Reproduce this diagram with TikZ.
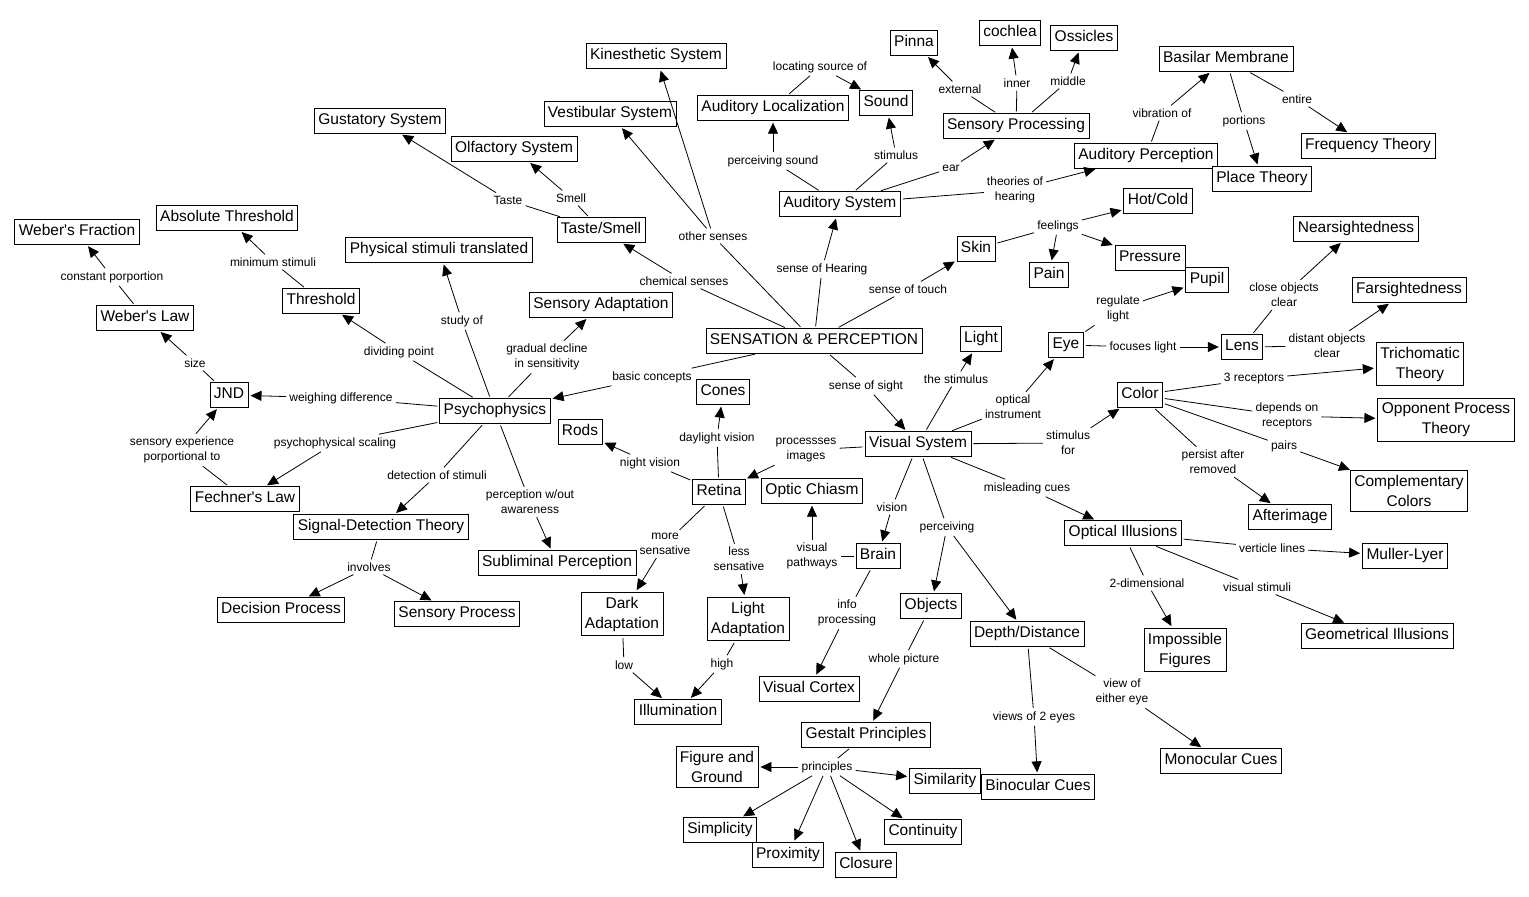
\documentclass[tikz,border=0pt]{standalone}
\usepackage{fontspec}
\setmainfont{Liberation Sans}[Ligatures=TeXOff]
\usetikzlibrary{arrows.meta}
\begin{document}
\begin{tikzpicture}[x=1pt,y=-1pt,
 cbase/.style={draw,fill=white,line width=0.8pt,inner xsep=4pt,font=\fontsize{15.5}{20}\selectfont,align=center},
 conebox/.style={cbase,inner ysep=5pt,text height=11pt,text depth=3.5pt},
 ctwobox/.style={cbase,inner ysep=4.5pt},
 lb/.style={inner sep=3pt,font=\fontsize{12}{15}\selectfont,align=center},
 ln/.style={line width=0.8pt,shorten <=2pt},
 ar/.style={line width=0.8pt,-{Triangle[length=11pt,width=10pt]},shorten >=2pt}]
\fill[white] (0,0) rectangle (1529,897);
\useasboundingbox (0,0) rectangle (1529,897);
% concepts
\node[conebox] (kin) at (656,56) {Kinesthetic System};
\node[conebox] (ves) at (610,114) {Vestibular System};
\node[conebox] (gus) at (380,121) {Gustatory System};
\node[conebox] (olf) at (514,149) {Olfactory System};
\node[conebox] (aloc) at (773,108) {Auditory Localization};
\node[conebox] (sound) at (886,103) {Sound};
\node[conebox] (pinna) at (914,43) {Pinna};
\node[conebox] (coch) at (1010,33) {cochlea};
\node[conebox] (oss) at (1084,38) {Ossicles};
\node[conebox] (sproc) at (1016,126) {Sensory Processing};
\node[conebox] (basil) at (1226,59) {Basilar Membrane};
\node[conebox] (freq) at (1368,146) {Frequency Theory};
\node[conebox] (aper) at (1146,156) {Auditory Perception};
\node[conebox] (place) at (1262,179) {Place Theory};
\node[conebox] (asys) at (840,204) {Auditory System};
\node[conebox] (hot) at (1158,201) {Hot/Cold};
\node[conebox] (skin) at (976,249) {Skin};
\node[conebox] (pain) at (1049,275) {Pain};
\node[conebox] (press) at (1150,258) {Pressure};
\node[conebox] (pupil) at (1207,280) {Pupil};
\node[conebox] (near) at (1356,229) {Nearsightedness};
\node[conebox] (far) at (1409,290) {Farsightedness};
\node[conebox] (wfrac) at (77,232) {Weber's Fraction};
\node[conebox] (abs) at (227,218) {Absolute Threshold};
\node[conebox] (phys) at (439,250) {Physical stimuli translated};
\node[conebox] (ts) at (601,230) {Taste/Smell};
\node[conebox] (thr) at (321,301) {Threshold};
\node[conebox] (wlaw) at (145,318) {Weber's Law};
\node[conebox] (sadapt) at (601,305) {Sensory Adaptation};
\node[conebox] (sp) at (814,341) {SENSATION \& PERCEPTION};
\node[conebox] (light) at (981,339) {Light};
\node[conebox] (eye) at (1066,345) {Eye};
\node[conebox] (lens) at (1242,347) {Lens};
\node[ctwobox] (tri) at (1420,364) {Trichomatic\\Theory};
\node[conebox] (color) at (1140,395) {Color};
\node[ctwobox] (opp) at (1446,420) {Opponent Process\\Theory};
\node[conebox] (jnd) at (229,395) {JND};
\node[conebox] (psy) at (495,411) {Psychophysics};
\node[conebox] (cones) at (723,392) {Cones};
\node[conebox] (rods) at (580,432) {Rods};
\node[conebox] (vis) at (918,444) {Visual System};
\node[conebox] (ret) at (719,492) {Retina};
\node[conebox] (chi) at (812,491) {Optic Chiasm};
\node[conebox] (fech) at (245,499) {Fechner's Law};
\node[conebox] (sdt) at (381,527) {Signal-Detection Theory};
\node[conebox] (subl) at (557,563) {Subliminal Perception};
\node[ctwobox] (comp) at (1409,491) {Complementary\\Colors};
\node[conebox] (after) at (1290,517) {Afterimage};
\node[conebox] (opt) at (1123,533) {Optical Illusions};
\node[conebox] (mull) at (1405,556) {Muller-Lyer};
\node[conebox] (brain) at (878,556) {Brain};
\node[conebox] (dec) at (281,610) {Decision Process};
\node[conebox] (sproc2) at (457,614) {Sensory Process};
\node[ctwobox] (dark) at (622,614) {Dark\\Adaptation};
\node[ctwobox] (ladapt) at (748,619) {Light\\Adaptation};
\node[conebox] (obj) at (931,606) {Objects};
\node[conebox] (depth) at (1027,634) {Depth/Distance};
\node[ctwobox] (imp) at (1185,650) {Impossible\\Figures};
\node[conebox] (geo) at (1377,636) {Geometrical Illusions};
\node[conebox] (vcor) at (809,689) {Visual Cortex};
\node[conebox] (illum) at (678,712) {Illumination};
\node[conebox] (gest) at (866,735) {Gestalt Principles};
\node[ctwobox] (fig) at (717,767) {Figure and\\Ground};
\node[conebox] (sim) at (945,781) {Similarity};
\node[conebox] (bino) at (1038,787) {Binocular Cues};
\node[conebox] (mono) at (1221,761) {Monocular Cues};
\node[conebox] (simp) at (720,830) {Simplicity};
\node[conebox] (prox) at (788,855) {Proximity};
\node[conebox] (clos) at (866,865) {Closure};
\node[conebox] (cont) at (923,832) {Continuity};
% labels
\node[lb] (l_os) at (713,236) {other senses};
\node[lb] (l_chem) at (684,281) {chemical senses};
\node[lb] (l_taste) at (508,200) {Taste};
\node[lb] (l_smell) at (571,198) {Smell};
\node[lb] (l_loc) at (820,67) {locating source of};
\node[lb] (l_psound) at (773,161) {perceiving sound};
\node[lb] (l_stim) at (896,155) {stimulus};
\node[lb] (l_ear) at (951,168) {ear};
\node[lb] (l_ext) at (960,89) {external};
\node[lb] (l_inner) at (1017,83) {inner};
\node[lb] (l_mid) at (1068,81) {middle};
\node[lb] (l_theo) at (1015,190) {theories of\\hearing};
\node[lb] (l_vib) at (1162,113) {vibration of};
\node[lb] (l_port) at (1244,121) {portions};
\node[lb] (l_ent) at (1297,99) {entire};
\node[lb] (l_feel) at (1058,226) {feelings};
\node[lb] (l_hear) at (822,269) {sense of Hearing};
\node[lb] (l_touch) at (908,289) {sense of touch};
\node[lb] (l_min) at (273,262) {minimum stimuli};
\node[lb] (l_const) at (112,277) {constant porportion};
\node[lb] (l_study) at (462,321) {study of};
\node[lb] (l_grad) at (547,357) {gradual decline\\in sensitivity};
\node[lb] (l_div) at (399,352) {dividing point};
\node[lb] (l_basic) at (652,377) {basic concepts};
\node[lb] (l_size) at (195,363) {size};
\node[lb] (l_weigh) at (341,398) {weighing difference};
\node[lb] (l_sens) at (182,450) {sensory experience\\porportional to};
\node[lb] (l_scal) at (335,443) {psychophysical scaling};
\node[lb] (l_det) at (437,475) {detection of stimuli};
\node[lb] (l_perc) at (530,502) {perception w/out\\awareness};
\node[lb] (l_inv) at (369,567) {involves};
\node[lb] (l_day) at (717,438) {daylight vision};
\node[lb] (l_night) at (650,463) {night vision};
\node[lb] (l_proc) at (806,450) {processses\\images};
\node[lb] (l_more) at (665,544) {more\\sensative};
\node[lb] (l_less) at (739,559) {less\\sensative};
\node[lb] (l_sight) at (866,386) {sense of sight};
\node[lb] (l_thestim) at (956,379) {the stimulus};
\node[lb] (l_optic) at (1013,407) {optical\\instrument};
\node[lb] (l_stimfor) at (1068,443) {stimulus\\for};
\node[lb] (l_mis) at (1027,488) {misleading cues};
\node[lb] (l_vision) at (892,507) {vision};
\node[lb] (l_perceiving) at (947,527) {perceiving};
\node[lb] (l_path) at (812,556) {visual\\pathways};
\node[lb] (l_info) at (847,613) {info\\processing};
\node[lb] (l_whole) at (904,659) {whole picture};
\node[lb] (l_low) at (624,665) {low};
\node[lb] (l_high) at (722,664) {high};
\node[lb] (l_princ) at (827,767) {principles};
\node[lb] (l_reg) at (1118,309) {regulate\\light};
\node[lb] (l_foc) at (1143,347) {focuses light};
\node[lb] (l_close) at (1284,295) {close objects\\clear};
\node[lb] (l_dist) at (1327,346) {distant objects\\clear};
\node[lb] (l_3r) at (1254,379) {3 receptors};
\node[lb] (l_dep) at (1287,416) {depends on\\receptors};
\node[lb] (l_pairs) at (1284,446) {pairs};
\node[lb] (l_pers) at (1213,462) {persist after\\removed};
\node[lb] (l_vert) at (1272,548) {verticle lines};
\node[lb] (l_2d) at (1147,583) {2-dimensional};
\node[lb] (l_vstim) at (1257,587) {visual stimuli};
\node[lb] (l_2eyes) at (1034,717) {views of 2 eyes};
\node[lb] (l_either) at (1122,692) {view of\\either eye};
% links
\draw[ln] (sp) -- (l_os); \draw[ar] (l_os) -- (ves); \draw[ar] (l_os) -- (kin);
\draw[ln] (sp) -- (l_chem); \draw[ar] (l_chem) -- (ts);
\draw[ln] (ts) -- (l_taste); \draw[ar] (l_taste) -- (gus);
\draw[ln] (ts) -- (l_smell); \draw[ar] (l_smell) -- (olf);
\draw[ln] (sp) -- (l_hear); \draw[ar] (l_hear) -- (asys);
\draw[ln] (asys) -- (l_psound); \draw[ar] (l_psound) -- (aloc);
\draw[ln] (aloc) -- (l_loc); \draw[ar] (l_loc) -- (sound);
\draw[ln] (asys) -- (l_stim); \draw[ar] (l_stim) -- (sound);
\draw[ln] (asys) -- (l_ear); \draw[ar] (l_ear) -- (sproc);
\draw[ln] (sproc) -- (l_ext); \draw[ar] (l_ext) -- (pinna);
\draw[ln] (sproc) -- (l_inner); \draw[ar] (l_inner) -- (coch);
\draw[ln] (sproc) -- (l_mid); \draw[ar] (l_mid) -- (oss);
\draw[ln] (asys) -- (l_theo); \draw[ar] (l_theo) -- (aper);
\draw[ln] (aper) -- (l_vib); \draw[ar] (l_vib) -- (basil);
\draw[ln] (basil) -- (l_port); \draw[ar] (l_port) -- (place);
\draw[ln] (basil) -- (l_ent); \draw[ar] (l_ent) -- (freq);
\draw[ln] (sp) -- (l_touch); \draw[ar] (l_touch) -- (skin);
\draw[ln] (skin) -- (l_feel); \draw[ar] (l_feel) -- (hot); \draw[ar] (l_feel) -- (pain); \draw[ar] (l_feel) -- (press);
\draw[ln] (sp) -- (l_basic); \draw[ar] (l_basic) -- (psy);
\draw[ln] (psy) -- (l_grad); \draw[ar] (l_grad) -- (sadapt);
\draw[ln] (psy) -- (l_study); \draw[ar] (l_study) -- (phys);
\draw[ln] (psy) -- (l_div); \draw[ar] (l_div) -- (thr);
\draw[ln] (thr) -- (l_min); \draw[ar] (l_min) -- (abs);
\draw[ln] (psy) -- (l_weigh); \draw[ar] (l_weigh) -- (jnd);
\draw[ln] (jnd) -- (l_size); \draw[ar] (l_size) -- (wlaw);
\draw[ln] (wlaw) -- (l_const); \draw[ar] (l_const) -- (wfrac);
\draw[ln] (psy) -- (l_scal); \draw[ar] (l_scal) -- (fech);
\draw[ln] (fech) -- (l_sens); \draw[ar] (l_sens) -- (jnd);
\draw[ln] (psy) -- (l_det); \draw[ar] (l_det) -- (sdt);
\draw[ln] (sdt) -- (l_inv); \draw[ar] (l_inv) -- (dec); \draw[ar] (l_inv) -- (sproc2);
\draw[ln] (psy) -- (l_perc); \draw[ar] (l_perc) -- (subl);
\draw[ln] (sp) -- (l_sight); \draw[ar] (l_sight) -- (vis);
\draw[ln] (vis) -- (l_thestim); \draw[ar] (l_thestim) -- (light);
\draw[ln] (vis) -- (l_optic); \draw[ar] (l_optic) -- (eye);
\draw[ln] (eye) -- (l_reg); \draw[ar] (l_reg) -- (pupil);
\draw[ln] (eye) -- (l_foc); \draw[ar] (l_foc) -- (lens);
\draw[ln] (lens) -- (l_close); \draw[ar] (l_close) -- (near);
\draw[ln] (lens) -- (l_dist); \draw[ar] (l_dist) -- (far);
\draw[ln] (vis) -- (l_stimfor); \draw[ar] (l_stimfor) -- (color);
\draw[ln] (color) -- (l_3r); \draw[ar] (l_3r) -- (tri);
\draw[ln] (color) -- (l_dep); \draw[ar] (l_dep) -- (opp);
\draw[ln] (color) -- (l_pairs); \draw[ar] (l_pairs) -- (comp);
\draw[ln] (color) -- (l_pers); \draw[ar] (l_pers) -- (after);
\draw[ln] (vis) -- (l_mis); \draw[ar] (l_mis) -- (opt);
\draw[ln] (opt) -- (l_vert); \draw[ar] (l_vert) -- (mull);
\draw[ln] (opt) -- (l_2d); \draw[ar] (l_2d) -- (imp);
\draw[ln] (opt) -- (l_vstim); \draw[ar] (l_vstim) -- (geo);
\draw[ln] (vis) -- (l_proc); \draw[ar] (l_proc) -- (ret);
\draw[ln] (ret) -- (l_day); \draw[ar] (l_day) -- (cones);
\draw[ln] (ret) -- (l_night); \draw[ar] (l_night) -- (rods);
\draw[ln] (ret) -- (l_more); \draw[ar] (l_more) -- (dark);
\draw[ln] (ret) -- (l_less); \draw[ar] (l_less) -- (ladapt);
\draw[ln] (dark) -- (l_low); \draw[ar] (l_low) -- (illum);
\draw[ln] (ladapt) -- (l_high); \draw[ar] (l_high) -- (illum);
\draw[ln] (vis) -- (l_vision); \draw[ar] (l_vision) -- (brain);
\draw[ln] (brain) -- (l_path); \draw[ar] (l_path) -- (chi);
\draw[ln] (brain) -- (l_info); \draw[ar] (l_info) -- (vcor);
\draw[ln] (vis) -- (l_perceiving); \draw[ar] (l_perceiving) -- (obj); \draw[ar] (l_perceiving) -- (depth);
\draw[ln] (obj) -- (l_whole); \draw[ar] (l_whole) -- (gest);
\draw[ln] (gest) -- (l_princ);
\draw[ar] (l_princ) -- (fig); \draw[ar] (l_princ) -- (sim); \draw[ar] (l_princ) -- (simp);
\draw[ar] (l_princ) -- (prox); \draw[ar] (l_princ) -- (clos); \draw[ar] (l_princ) -- (cont);
\draw[ln] (depth) -- (l_2eyes); \draw[ar] (l_2eyes) -- (bino);
\draw[ln] (depth) -- (l_either); \draw[ar] (l_either) -- (mono);
\end{tikzpicture}
\end{document}
